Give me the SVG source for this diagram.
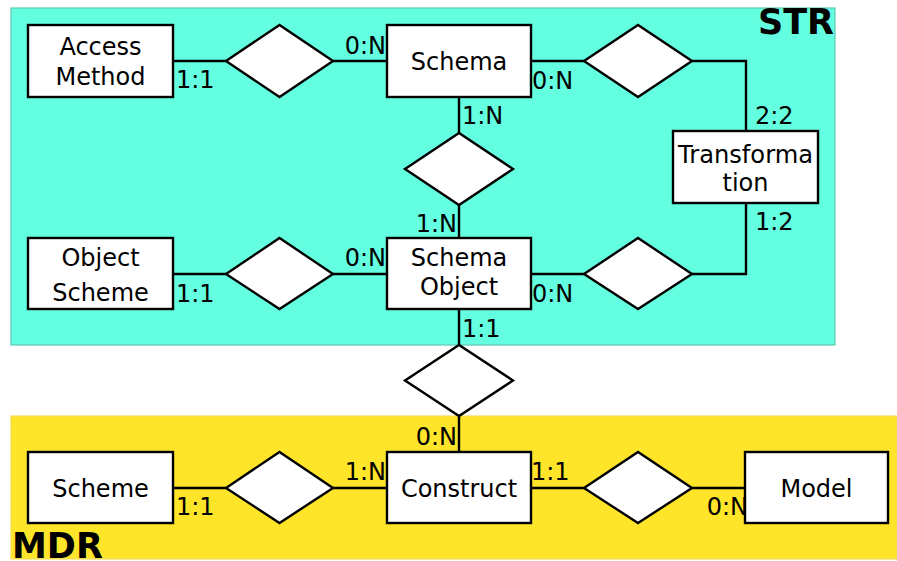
<svg xmlns="http://www.w3.org/2000/svg" width="897" height="561" viewBox="0 0 897 561">
  <style>
    .ent { fill: #ffffff; stroke: #000000; stroke-width: 2.4; }
    .rel { fill: #ffffff; stroke: #000000; stroke-width: 2.4; stroke-linejoin: miter; }
    .lnk { fill: none; stroke: #000000; stroke-width: 2.4; }
    text { font-family: "DejaVu Sans", "Liberation Sans", sans-serif; fill: #000000; }
    .lbl { font-size: 24px; text-anchor: middle; }
    .card { font-size: 24px; }
    .end { text-anchor: end; }
    .area { font-size: 35px; font-weight: bold; }
  </style>

  <!-- Package areas -->
  <g id="area-str">
    <rect x="11" y="8" width="824" height="337" fill="#64ffe0" stroke="#5cc9b2" stroke-width="1.2"/>
    <text class="area end" x="834" y="34">STR</text>
  </g>
  <g id="area-mdr">
    <rect x="11" y="416" width="886" height="143" fill="#ffe52a" stroke="#f2dc5a" stroke-width="1.2"/>
    <text class="area" x="12" y="558">MDR</text>
  </g>

  <!-- Connectors -->
  <g id="connectors">
    <path class="lnk" d="M173 61 H226 M333 61 H387"/>
    <path class="lnk" d="M531 61 H584 M692 61 H746 V131"/>
    <path class="lnk" d="M459 97 V133 M459 205 V238"/>
    <path class="lnk" d="M173 274 H226 M333 274 H387"/>
    <path class="lnk" d="M531 274 H584 M692 274 H746 V203"/>
    <path class="lnk" d="M459 309 V345 M459 416 V452"/>
    <path class="lnk" d="M173 488 H226 M333 488 H387"/>
    <path class="lnk" d="M531 488 H584 M692 488 H745"/>
  </g>

  <!-- Entities -->
  <g id="access-method">
    <rect class="ent" x="28" y="25" width="145" height="72"/>
    <text class="lbl" x="100.5" y="55">Access</text>
    <text class="lbl" x="100.5" y="85">Method</text>
  </g>
  <g id="schema">
    <rect class="ent" x="387" y="25" width="144" height="72"/>
    <text class="lbl" x="459" y="70">Schema</text>
  </g>
  <g id="transformation">
    <rect class="ent" x="673" y="131" width="145" height="72"/>
    <text class="lbl" x="745.5" y="163" textLength="135" lengthAdjust="spacingAndGlyphs">Transforma</text>
    <text class="lbl" x="745.5" y="191">tion</text>
  </g>
  <g id="object-scheme">
    <rect class="ent" x="28" y="238" width="145" height="71"/>
    <text class="lbl" x="100.5" y="266">Object</text>
    <text class="lbl" x="100.5" y="301">Scheme</text>
  </g>
  <g id="schema-object">
    <rect class="ent" x="387" y="238" width="144" height="71"/>
    <text class="lbl" x="459" y="266">Schema</text>
    <text class="lbl" x="459" y="295">Object</text>
  </g>
  <g id="scheme">
    <rect class="ent" x="28" y="452" width="145" height="71"/>
    <text class="lbl" x="100.5" y="497">Scheme</text>
  </g>
  <g id="construct">
    <rect class="ent" x="387" y="452" width="144" height="71"/>
    <text class="lbl" x="459" y="497">Construct</text>
  </g>
  <g id="model">
    <rect class="ent" x="745" y="452" width="143" height="71"/>
    <text class="lbl" x="816.5" y="497">Model</text>
  </g>

  <!-- Relationships -->
  <g id="rel-access-schema"><polygon class="rel" points="226,61 279.5,25 333,61 279.5,97"/></g>
  <g id="rel-schema-transformation"><polygon class="rel" points="584,61 638,25 692,61 638,97"/></g>
  <g id="rel-schema-schemaobject"><polygon class="rel" points="405,169 459,133 513,169 459,205"/></g>
  <g id="rel-objectscheme-schemaobject"><polygon class="rel" points="226,274 279.5,238 333,274 279.5,309"/></g>
  <g id="rel-schemaobject-transformation"><polygon class="rel" points="584,274 638,238 692,274 638,309"/></g>
  <g id="rel-schemaobject-construct"><polygon class="rel" points="405,380.5 459,345 513,380.5 459,416"/></g>
  <g id="rel-scheme-construct"><polygon class="rel" points="226,488 279.5,452 333,488 279.5,523"/></g>
  <g id="rel-construct-model"><polygon class="rel" points="584,488 638,452 692,488 638,523"/></g>

  <!-- Cardinalities -->
  <g id="cardinalities">
    <text class="card" x="176" y="88">1:1</text>
    <text class="card end" x="386" y="54">0:N</text>
    <text class="card" x="532" y="89">0:N</text>
    <text class="card" x="462" y="124">1:N</text>
    <text class="card" x="755" y="124">2:2</text>
    <text class="card end" x="457" y="232">1:N</text>
    <text class="card" x="755" y="230">1:2</text>
    <text class="card end" x="386" y="266">0:N</text>
    <text class="card" x="176" y="302">1:1</text>
    <text class="card" x="532" y="302">0:N</text>
    <text class="card" x="462" y="337">1:1</text>
    <text class="card end" x="457" y="445">0:N</text>
    <text class="card" x="176" y="515">1:1</text>
    <text class="card end" x="386" y="480">1:N</text>
    <text class="card" x="531" y="480">1:1</text>
    <text class="card end" x="748" y="515">0:N</text>
  </g>
</svg>
